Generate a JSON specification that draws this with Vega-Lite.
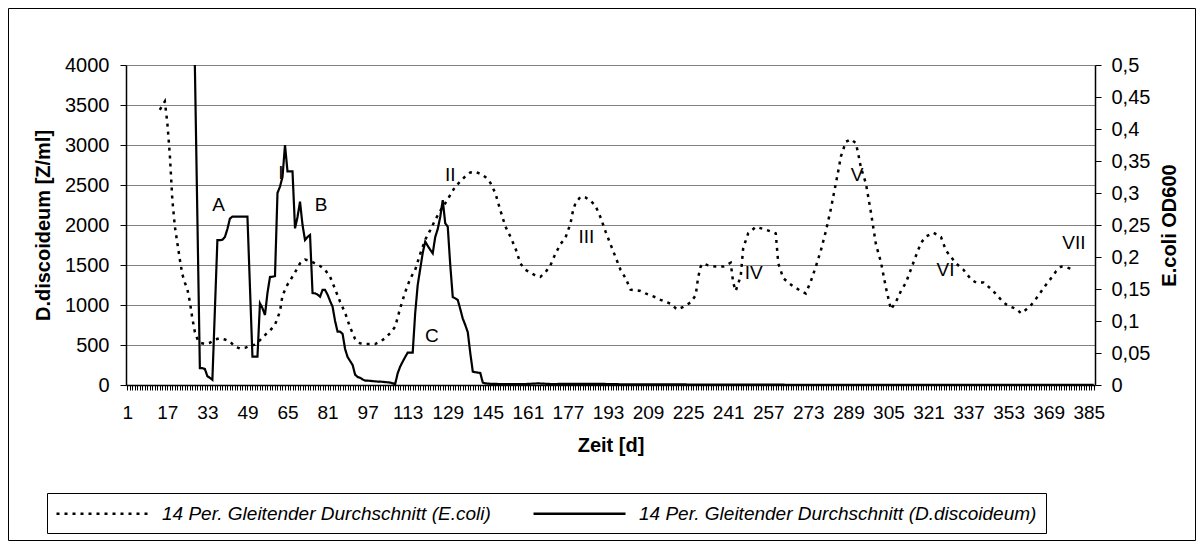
{
  "$schema": "https://vega.github.io/schema/vega-lite/v6.json",
  "width": 1187,
  "height": 532,
  "autosize": {"type": "none"},
  "padding": {"left": 8, "top": 8, "right": 8, "bottom": 7},
  "background": "white",
  "config": {
    "font": "Liberation Sans",
    "view": {"stroke": "black", "strokeWidth": 1},
    "axis": {"labelFont": "Liberation Sans", "titleFont": "Liberation Sans", "labelColor": "black", "titleColor": "black", "domainColor": "black", "tickColor": "black", "labelFontSize": 19, "titleFontSize": 20, "titleFontWeight": "bold"},
    "legend": {"title": null, "orient": "none", "legendX": 39, "legendY": 485, "direction": "horizontal", "symbolType": "M-4.6,0H4.6", "symbolSize": 400, "symbolOffset": 35, "symbolStrokeWidth": 2.5, "symbolStrokeColor": "black", "symbolFillColor": "transparent", "labelFont": "Liberation Sans", "labelFontSize": 19, "labelFontStyle": "italic", "labelColor": "black", "labelLimit": 800, "labelOffset": 48, "columnPadding": 37, "strokeColor": "black", "fillColor": "white", "padding": 9}
  },
  "datasets": {
    "ddisc": [
      {"day": 28, "value": 4400}, {"day": 30, "value": 210}, {"day": 31, "value": 210}, {"day": 32, "value": 200}, {"day": 33, "value": 110}, {"day": 34, "value": 90}, {"day": 35, "value": 65},
      {"day": 37, "value": 1810}, {"day": 38, "value": 1810}, {"day": 39, "value": 1815}, {"day": 40, "value": 1850}, {"day": 41, "value": 1950}, {"day": 42, "value": 2080},
      {"day": 43, "value": 2104}, {"day": 44, "value": 2104}, {"day": 45, "value": 2104}, {"day": 46, "value": 2104}, {"day": 47, "value": 2104}, {"day": 48, "value": 2104}, {"day": 49, "value": 2104},
      {"day": 51, "value": 354}, {"day": 52, "value": 354}, {"day": 53, "value": 354}, {"day": 54, "value": 1020}, {"day": 55, "value": 960}, {"day": 56, "value": 875},
      {"day": 57, "value": 1150}, {"day": 58, "value": 1350}, {"day": 59, "value": 1354}, {"day": 60, "value": 1360}, {"day": 61, "value": 2400}, {"day": 62, "value": 2480},
      {"day": 63, "value": 2600}, {"day": 64, "value": 3000}, {"day": 65, "value": 2670}, {"day": 66, "value": 2670}, {"day": 67, "value": 2670}, {"day": 68, "value": 1958},
      {"day": 69, "value": 2100}, {"day": 70, "value": 2292}, {"day": 71, "value": 2000}, {"day": 72, "value": 1812}, {"day": 73, "value": 1850}, {"day": 74, "value": 1875},
      {"day": 75, "value": 1150}, {"day": 76, "value": 1146}, {"day": 77, "value": 1130}, {"day": 78, "value": 1104}, {"day": 79, "value": 1188}, {"day": 80, "value": 1188},
      {"day": 81, "value": 1130}, {"day": 82, "value": 1050}, {"day": 83, "value": 979}, {"day": 84, "value": 800}, {"day": 85, "value": 667}, {"day": 86, "value": 667},
      {"day": 87, "value": 640}, {"day": 88, "value": 450}, {"day": 89, "value": 350}, {"day": 90, "value": 300}, {"day": 91, "value": 250}, {"day": 92, "value": 130},
      {"day": 93, "value": 100}, {"day": 94, "value": 90}, {"day": 95, "value": 70}, {"day": 96, "value": 55}, {"day": 97, "value": 55}, {"day": 100, "value": 45},
      {"day": 103, "value": 40}, {"day": 106, "value": 30}, {"day": 108, "value": 12}, {"day": 109, "value": 146}, {"day": 110, "value": 230}, {"day": 111, "value": 292},
      {"day": 112, "value": 350}, {"day": 113, "value": 404}, {"day": 115, "value": 404}, {"day": 116, "value": 900}, {"day": 117, "value": 1250}, {"day": 118, "value": 1450},
      {"day": 119, "value": 1650}, {"day": 120, "value": 1792}, {"day": 121, "value": 1740}, {"day": 122, "value": 1690}, {"day": 123, "value": 1646}, {"day": 124, "value": 1850},
      {"day": 125, "value": 1950}, {"day": 126, "value": 2100}, {"day": 127, "value": 2312}, {"day": 128, "value": 2021}, {"day": 129, "value": 1979}, {"day": 130, "value": 1500},
      {"day": 131, "value": 1100}, {"day": 132, "value": 1083}, {"day": 133, "value": 1062}, {"day": 134, "value": 950}, {"day": 135, "value": 830}, {"day": 136, "value": 750},
      {"day": 137, "value": 660}, {"day": 138, "value": 400}, {"day": 139, "value": 167}, {"day": 140, "value": 160}, {"day": 141, "value": 155}, {"day": 142, "value": 150},
      {"day": 143, "value": 30}, {"day": 144, "value": 20}, {"day": 146, "value": 15}, {"day": 150, "value": 12}, {"day": 160, "value": 12}, {"day": 165, "value": 20},
      {"day": 170, "value": 12}, {"day": 180, "value": 15}, {"day": 190, "value": 15}, {"day": 195, "value": 10}, {"day": 210, "value": 8}, {"day": 240, "value": 5},
      {"day": 270, "value": 3}, {"day": 300, "value": 2}, {"day": 340, "value": 2}, {"day": 387, "value": 1}
    ],
    "ecoli": [
      {"day": 14, "value": 0.43}, {"day": 16, "value": 0.443}, {"day": 17, "value": 0.41}, {"day": 18, "value": 0.36}, {"day": 19, "value": 0.29}, {"day": 20, "value": 0.248},
      {"day": 21, "value": 0.222}, {"day": 22, "value": 0.196}, {"day": 23, "value": 0.173}, {"day": 24, "value": 0.16}, {"day": 25, "value": 0.15}, {"day": 26, "value": 0.13},
      {"day": 27, "value": 0.104}, {"day": 28, "value": 0.083}, {"day": 29, "value": 0.072}, {"day": 30, "value": 0.066}, {"day": 32, "value": 0.064}, {"day": 34, "value": 0.066},
      {"day": 36, "value": 0.071}, {"day": 38, "value": 0.073}, {"day": 40, "value": 0.071}, {"day": 42, "value": 0.068}, {"day": 44, "value": 0.06}, {"day": 46, "value": 0.057},
      {"day": 48, "value": 0.058}, {"day": 50, "value": 0.061}, {"day": 52, "value": 0.063}, {"day": 54, "value": 0.07}, {"day": 56, "value": 0.078}, {"day": 58, "value": 0.085},
      {"day": 60, "value": 0.094}, {"day": 62, "value": 0.115}, {"day": 63, "value": 0.14}, {"day": 65, "value": 0.157}, {"day": 66, "value": 0.163}, {"day": 68, "value": 0.176},
      {"day": 70, "value": 0.19}, {"day": 72, "value": 0.196}, {"day": 74, "value": 0.194}, {"day": 76, "value": 0.19}, {"day": 78, "value": 0.186}, {"day": 80, "value": 0.18},
      {"day": 82, "value": 0.169}, {"day": 84, "value": 0.15}, {"day": 86, "value": 0.13}, {"day": 88, "value": 0.113}, {"day": 90, "value": 0.09}, {"day": 92, "value": 0.072},
      {"day": 94, "value": 0.065}, {"day": 96, "value": 0.064}, {"day": 98, "value": 0.064}, {"day": 100, "value": 0.064}, {"day": 102, "value": 0.068}, {"day": 104, "value": 0.073},
      {"day": 106, "value": 0.081}, {"day": 108, "value": 0.091}, {"day": 110, "value": 0.12}, {"day": 112, "value": 0.145}, {"day": 114, "value": 0.166}, {"day": 116, "value": 0.18},
      {"day": 118, "value": 0.205}, {"day": 120, "value": 0.227}, {"day": 122, "value": 0.242}, {"day": 124, "value": 0.258}, {"day": 126, "value": 0.272}, {"day": 128, "value": 0.284},
      {"day": 130, "value": 0.297}, {"day": 132, "value": 0.31}, {"day": 134, "value": 0.318}, {"day": 136, "value": 0.326}, {"day": 138, "value": 0.332}, {"day": 140, "value": 0.333},
      {"day": 142, "value": 0.33}, {"day": 144, "value": 0.325}, {"day": 146, "value": 0.316}, {"day": 148, "value": 0.3}, {"day": 150, "value": 0.273}, {"day": 152, "value": 0.248},
      {"day": 154, "value": 0.232}, {"day": 156, "value": 0.214}, {"day": 158, "value": 0.19}, {"day": 160, "value": 0.18}, {"day": 162, "value": 0.176}, {"day": 164, "value": 0.171},
      {"day": 166, "value": 0.169}, {"day": 168, "value": 0.176}, {"day": 170, "value": 0.187}, {"day": 172, "value": 0.205}, {"day": 174, "value": 0.22}, {"day": 176, "value": 0.23},
      {"day": 178, "value": 0.252}, {"day": 179, "value": 0.272}, {"day": 180, "value": 0.284}, {"day": 182, "value": 0.294}, {"day": 184, "value": 0.293}, {"day": 186, "value": 0.288},
      {"day": 188, "value": 0.28}, {"day": 190, "value": 0.262}, {"day": 192, "value": 0.24}, {"day": 194, "value": 0.22}, {"day": 196, "value": 0.2}, {"day": 198, "value": 0.18},
      {"day": 200, "value": 0.167}, {"day": 202, "value": 0.149}, {"day": 204, "value": 0.148}, {"day": 206, "value": 0.147}, {"day": 208, "value": 0.143}, {"day": 210, "value": 0.14},
      {"day": 212, "value": 0.137}, {"day": 214, "value": 0.133}, {"day": 216, "value": 0.13}, {"day": 218, "value": 0.127}, {"day": 220, "value": 0.12}, {"day": 221, "value": 0.118},
      {"day": 223, "value": 0.122}, {"day": 226, "value": 0.129}, {"day": 228, "value": 0.14}, {"day": 229, "value": 0.168}, {"day": 230, "value": 0.185}, {"day": 231, "value": 0.19},
      {"day": 233, "value": 0.187}, {"day": 236, "value": 0.185}, {"day": 239, "value": 0.185}, {"day": 242, "value": 0.191}, {"day": 243, "value": 0.16}, {"day": 244, "value": 0.147},
      {"day": 246, "value": 0.17}, {"day": 247, "value": 0.214}, {"day": 249, "value": 0.237}, {"day": 252, "value": 0.247}, {"day": 255, "value": 0.244}, {"day": 258, "value": 0.24},
      {"day": 260, "value": 0.237}, {"day": 261, "value": 0.19}, {"day": 263, "value": 0.167}, {"day": 265, "value": 0.16}, {"day": 267, "value": 0.154}, {"day": 270, "value": 0.147},
      {"day": 272, "value": 0.143}, {"day": 274, "value": 0.162}, {"day": 276, "value": 0.185}, {"day": 278, "value": 0.21}, {"day": 280, "value": 0.24}, {"day": 282, "value": 0.275},
      {"day": 284, "value": 0.315}, {"day": 285, "value": 0.335}, {"day": 286, "value": 0.357}, {"day": 288, "value": 0.38}, {"day": 290, "value": 0.384}, {"day": 292, "value": 0.378},
      {"day": 293, "value": 0.36}, {"day": 294, "value": 0.34}, {"day": 296, "value": 0.315}, {"day": 298, "value": 0.27}, {"day": 300, "value": 0.22}, {"day": 302, "value": 0.192},
      {"day": 304, "value": 0.152}, {"day": 306, "value": 0.118}, {"day": 308, "value": 0.13}, {"day": 310, "value": 0.147}, {"day": 312, "value": 0.16}, {"day": 314, "value": 0.181},
      {"day": 316, "value": 0.202}, {"day": 318, "value": 0.222}, {"day": 320, "value": 0.232}, {"day": 323, "value": 0.238}, {"day": 326, "value": 0.231}, {"day": 328, "value": 0.21},
      {"day": 330, "value": 0.2}, {"day": 332, "value": 0.19}, {"day": 335, "value": 0.18}, {"day": 338, "value": 0.165}, {"day": 340, "value": 0.16}, {"day": 343, "value": 0.16},
      {"day": 346, "value": 0.15}, {"day": 348, "value": 0.142}, {"day": 350, "value": 0.133}, {"day": 352, "value": 0.126}, {"day": 354, "value": 0.122}, {"day": 356, "value": 0.119},
      {"day": 358, "value": 0.112}, {"day": 360, "value": 0.118}, {"day": 362, "value": 0.125}, {"day": 364, "value": 0.135}, {"day": 366, "value": 0.146}, {"day": 368, "value": 0.157},
      {"day": 370, "value": 0.167}, {"day": 372, "value": 0.178}, {"day": 374, "value": 0.185}, {"day": 376, "value": 0.184}, {"day": 379, "value": 0.18}
    ],
    "labels": [
      {"day": 37.5, "value": 2250, "text": "A"}, {"day": 62.4, "value": 2646, "text": "I"}, {"day": 78.4, "value": 2250, "text": "B"},
      {"day": 130, "value": 2625, "text": "II"}, {"day": 122.7, "value": 612, "text": "C"}, {"day": 184.4, "value": 1854, "text": "III"},
      {"day": 251.2, "value": 1396, "text": "IV"}, {"day": 292.5, "value": 2625, "text": "V"}, {"day": 327.8, "value": 1437, "text": "VI"},
      {"day": 379.1, "value": 1779, "text": "VII"}
    ]
  },
  "layer": [
    {
      "layer": [
        {
          "data": {"name": "ddisc"},
          "transform": [{"calculate": "'14 Per. Gleitender Durchschnitt (D.discoideum)'", "as": "series"}],
          "mark": {"type": "line", "color": "black", "strokeWidth": 2.2, "clip": true},
          "encoding": {
            "x": {"field": "day", "type": "quantitative", "scale": {"domain": [0.5, 387.5], "range": [118, 1087], "nice": false, "zero": false},
              "axis": {"title": "Zeit [d]", "offset": -155, "tickCount": 387, "labelExpr": "(datum.value - 1) % 16 == 0 ? datum.value : ''", "labelOverlap": false, "labelFlush": false, "labelBound": false, "tickSize": 5, "tickWidth": 1, "labelPadding": 13, "titlePadding": 13, "grid": false, "domainWidth": 1.5}},
            "y": {"field": "value", "type": "quantitative", "scale": {"domain": [0, 4000], "range": [377, 57], "nice": false, "clamp": true},
              "axis": {"orient": "left", "offset": -118, "title": "D.discoideum [Z/ml]", "values": [0, 500, 1000, 1500, 2000, 2500, 3000, 3500, 4000], "format": "d", "labelOverlap": false, "labelFontSize": 20, "grid": true, "gridColor": "#808080", "gridWidth": 1, "tickSize": 6, "labelPadding": 11, "titlePadding": 11, "domainWidth": 1.5}},
            "strokeDash": {"field": "series", "type": "nominal",
              "scale": {"domain": ["14 Per. Gleitender Durchschnitt (E.coli)", "14 Per. Gleitender Durchschnitt (D.discoideum)"], "range": [[3, 5], [1, 0]]},
              "legend": {"title": null}}
          }
        },
        {
          "data": {"name": "labels"},
          "mark": {"type": "text", "font": "Liberation Sans", "fontSize": 19, "color": "black", "align": "center", "baseline": "middle"},
          "encoding": {
            "x": {"field": "day", "type": "quantitative"},
            "y": {"field": "value", "type": "quantitative",
              "axis": {"orient": "left", "offset": -118, "title": "D.discoideum [Z/ml]", "values": [0, 500, 1000, 1500, 2000, 2500, 3000, 3500, 4000], "format": "d", "labelOverlap": false, "labelFontSize": 20, "grid": true, "gridColor": "#808080", "gridWidth": 1, "tickSize": 6, "labelPadding": 11, "titlePadding": 11, "domainWidth": 1.5}},
            "text": {"field": "text"}
          }
        }
      ]
    },
    {
      "data": {"name": "ecoli"},
      "transform": [{"calculate": "'14 Per. Gleitender Durchschnitt (E.coli)'", "as": "series"}],
      "mark": {"type": "line", "color": "black", "strokeWidth": 2.5, "clip": true},
      "encoding": {
        "x": {"field": "day", "type": "quantitative"},
        "y": {"field": "value", "type": "quantitative", "scale": {"domain": [0, 0.5], "range": [377, 57], "nice": false},
          "axis": {"orient": "right", "offset": -100, "title": "E.coli OD600", "values": [0, 0.05, 0.1, 0.15, 0.2, 0.25, 0.3, 0.35, 0.4, 0.45, 0.5], "labelExpr": "replace(format(datum.value, '~g'), '.', ',')", "labelOverlap": false, "labelFontSize": 20, "grid": false, "tickSize": 6, "labelPadding": 10, "titlePadding": 10, "titleAngle": 270, "titleBaseline": "top", "domainWidth": 1.5}},
        "strokeDash": {"field": "series", "type": "nominal", "legend": {"title": null}}
      }
    }
  ],
  "resolve": {"scale": {"y": "independent"}}
}
